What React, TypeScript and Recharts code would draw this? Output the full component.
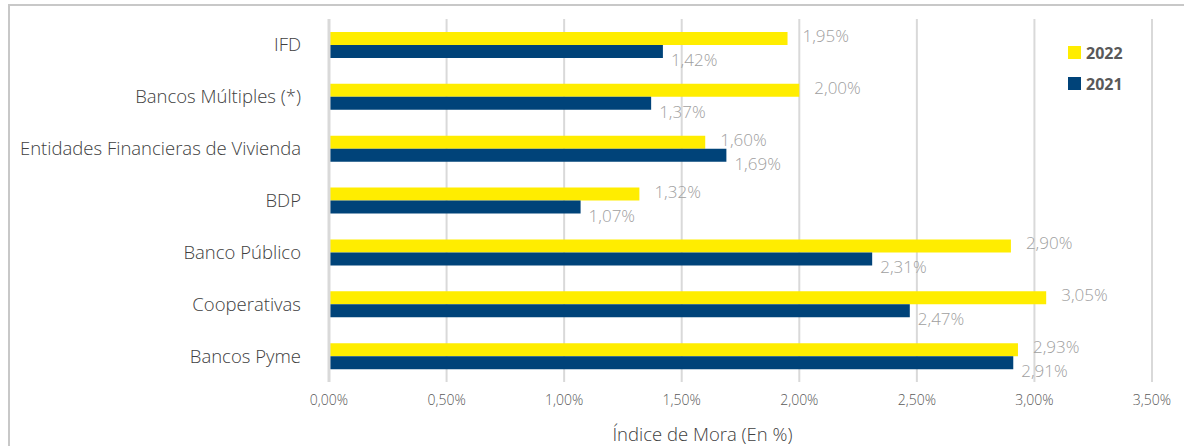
import React from "react";
import { BarChart, Bar, XAxis, YAxis, CartesianGrid, LabelList, Label } from "recharts";

const categories = [
  "IFD",
  "Bancos Múltiples (*)",
  "Entidades Financieras de Vivienda",
  "BDP",
  "Banco Público",
  "Cooperativas",
  "Bancos Pyme",
];
const values2022 = [1.95, 2.0, 1.6, 1.32, 2.9, 3.05, 2.93];
const values2021 = [1.42, 1.37, 1.69, 1.07, 2.31, 2.47, 2.91];
const xTicks = [0, 0.5, 1, 1.5, 2, 2.5, 3, 3.5];
const legendItems = ["2022", "2021"];

const data = categories.map((c, i) => ({ name: c, y2022: values2022[i], y2021: values2021[i] }));

const YELLOW = "#FFED00";
const BLUE = "#004379";
const FONT = "'Open Sans', 'Noto Sans', sans-serif";

const fmt = (v: number) => v.toFixed(2).replace(".", ",") + "%";

const makeLabel = (dx: number, dy: number) => (props: any) => {
  const { x, y, width, height, value } = props;
  return (
    <text
      x={Number(x) + Number(width) + dx}
      y={Number(y) + Number(height) / 2 + dy}
      fill="#A0A0A0"
      fontSize={17}
      fontWeight={300}
      fontFamily={FONT}
      dominantBaseline="central"
      textAnchor="start"
    >
      {fmt(Number(value))}
    </text>
  );
};

export default function App() {
  const colors = [YELLOW, BLUE];
  return (
    <div style={{ position: "absolute", left: 0, top: 0, width: 1184, height: 446, overflow: "hidden", background: "#fff" }}>
      <div
        style={{
          position: "absolute",
          left: 8,
          top: 4,
          width: 1200,
          height: 500,
          border: "2px solid #C8C8C8",
          boxSizing: "border-box",
        }}
      />
      <div style={{ position: "absolute", left: 0, top: 0 }}>
        <BarChart
          width={1184}
          height={446}
          data={data}
          layout="vertical"
          margin={{ top: 19, right: 32, bottom: 0, left: 0 }}
          barSize={13}
          barGap={0}
        >
          <CartesianGrid horizontal={false} vertical={true} stroke="#D9D9D9" strokeWidth={2} />
          <XAxis
            type="number"
            domain={[0, 3.5]}
            ticks={xTicks}
            tickFormatter={fmt}
            axisLine={false}
            tickLine={false}
            tick={{ fill: "#595959", fontSize: 14, fontWeight: 300, fontFamily: FONT }}
            tickMargin={7}
            height={64}
          >
            <Label
              value="Índice de Mora (En %)"
              position="insideBottom"
              dx={-38}
              offset={5}
              style={{ fill: "#404040", fontSize: 18.5, fontWeight: 300, fontFamily: FONT }}
            />
          </XAxis>
          <YAxis
            type="category"
            dataKey="name"
            width={329}
            axisLine={{ stroke: "#D9D9D9", strokeWidth: 3 }}
            tickLine={false}
            tickMargin={22}
            tick={{ fill: "#404040", fontSize: 18.5, fontWeight: 300, fontFamily: FONT }}
            interval={0}
          />
          <Bar dataKey="y2022" fill={YELLOW} isAnimationActive={false}>
            <LabelList dataKey="y2022" content={makeLabel(15, -3)} />
          </Bar>
          <Bar dataKey="y2021" fill={BLUE} isAnimationActive={false}>
            <LabelList dataKey="y2021" content={makeLabel(8, 8)} />
          </Bar>
        </BarChart>
      </div>
      <div
        style={{
          position: "absolute",
          left: 1068,
          top: 37,
          fontFamily: FONT,
          fontWeight: 700,
          fontSize: 16,
          color: "#595959",
        }}
      >
        {legendItems.map((t, i) => (
          <div key={t} style={{ display: "flex", alignItems: "center", height: 31 }}>
            <span style={{ display: "inline-block", width: 13, height: 13, background: colors[i], marginRight: 5 }} />
            <span>{t}</span>
          </div>
        ))}
      </div>
    </div>
  );
}
